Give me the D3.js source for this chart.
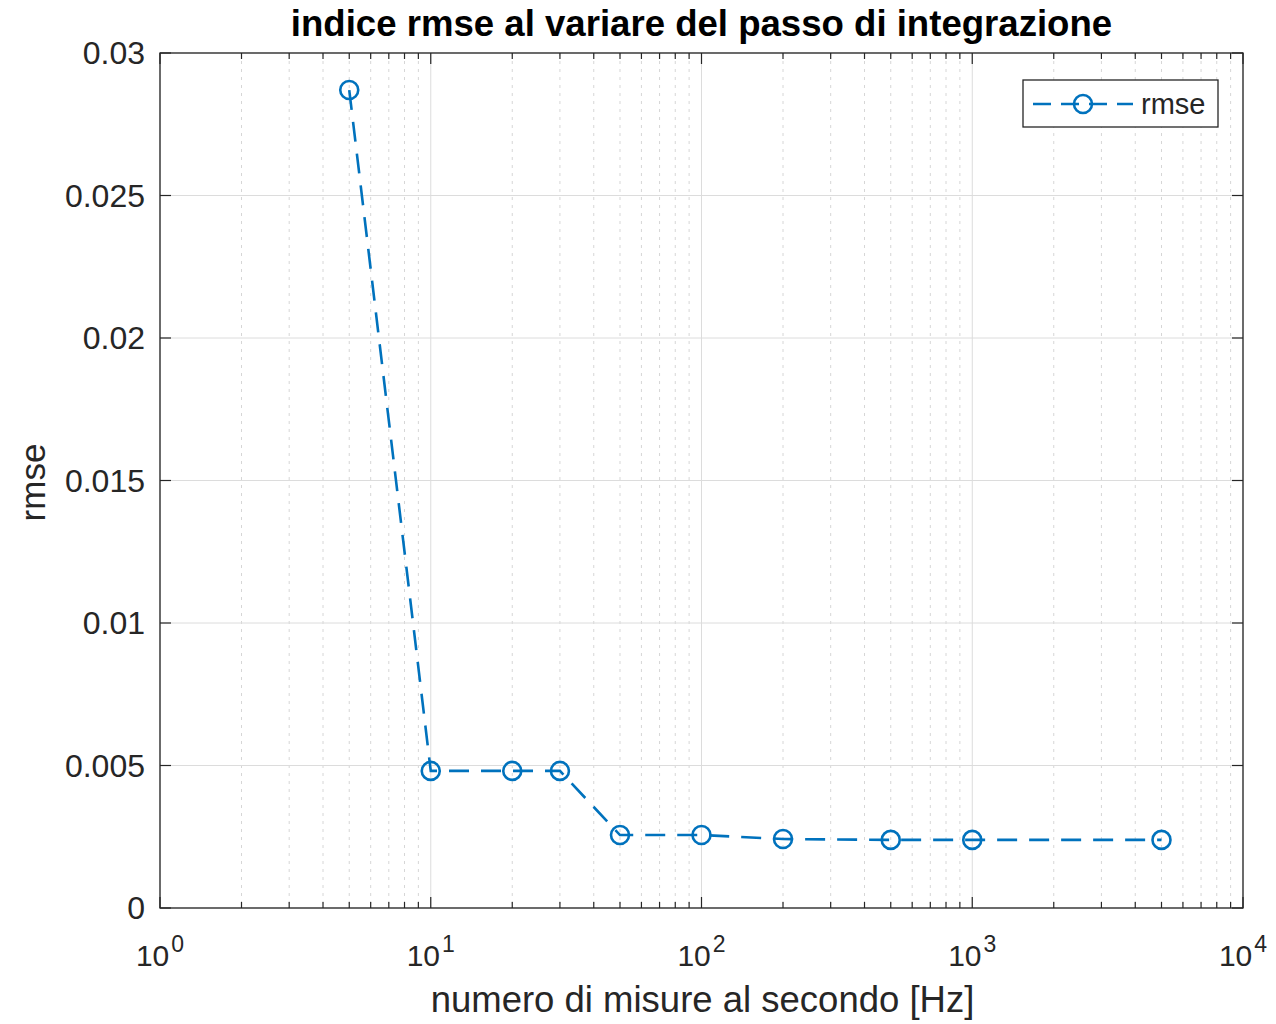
<!DOCTYPE html>
<html>
<head>
<meta charset="utf-8">
<script src="https://cdn.jsdelivr.net/npm/d3@7"></script>
<style>
  body { margin: 0; background: #fff; }
  text { font-family: "Liberation Sans", Arial, sans-serif; }
</style>
</head>
<body>
<div id="chart"></div>
<script>
// data
const freqs = [5, 10, 20, 30, 50, 100, 200, 500, 1000, 5000];
const rmse = [0.0287, 0.00481, 0.00481, 0.00481, 0.00256, 0.00256, 0.00242, 0.00239, 0.00239, 0.00239];
const yTicks = [0, 0.005, 0.01, 0.015, 0.02, 0.025, 0.03];
const yTickLabels = ["0", "0.005", "0.01", "0.015", "0.02", "0.025", "0.03"];
const xDecades = [1, 10, 100, 1000, 10000];

const W = 1276, H = 1024;
const margin = { top: 53, right: 33, bottom: 116, left: 160 };
const iw = W - margin.left - margin.right;
const ih = H - margin.top - margin.bottom;
const blue = "#0072BD";

const svg = d3.select("#chart").append("svg")
    .attr("width", W).attr("height", H);

const g = svg.append("g")
    .attr("transform", `translate(${margin.left},${margin.top})`);

const x = d3.scaleLog().domain([1, 10000]).range([0, iw]);
const y = d3.scaleLinear().domain([0, 0.03]).range([ih, 0]);

// minor log ticks
const minor = [];
xDecades.slice(0, -1).forEach(d => {
  for (let k = 2; k <= 9; k++) minor.push(d * k);
});

// grid
g.selectAll(".minor").data(minor).enter().append("line")
    .attr("x1", d => x(d)).attr("x2", d => x(d))
    .attr("y1", 0).attr("y2", ih)
    .attr("stroke", "#d6d6d6").attr("stroke-width", 1)
    .attr("stroke-dasharray", "3,5");
g.selectAll(".xgrid").data(xDecades).enter().append("line")
    .attr("x1", d => x(d)).attr("x2", d => x(d))
    .attr("y1", 0).attr("y2", ih)
    .attr("stroke", "#dcdcdc").attr("stroke-width", 1);
g.selectAll(".ygrid").data(yTicks).enter().append("line")
    .attr("x1", 0).attr("x2", iw)
    .attr("y1", d => y(d)).attr("y2", d => y(d))
    .attr("stroke", "#dcdcdc").attr("stroke-width", 1);

// ticks (inward, on all four sides)
const tk = g.append("g").attr("stroke", "#262626").attr("stroke-width", 1.2);
xDecades.forEach(d => {
  tk.append("line").attr("x1", x(d)).attr("x2", x(d)).attr("y1", ih).attr("y2", ih - 11);
  tk.append("line").attr("x1", x(d)).attr("x2", x(d)).attr("y1", 0).attr("y2", 11);
});
minor.forEach(d => {
  tk.append("line").attr("x1", x(d)).attr("x2", x(d)).attr("y1", ih).attr("y2", ih - 6);
  tk.append("line").attr("x1", x(d)).attr("x2", x(d)).attr("y1", 0).attr("y2", 6);
});
yTicks.forEach(d => {
  tk.append("line").attr("x1", 0).attr("x2", 11).attr("y1", y(d)).attr("y2", y(d));
  tk.append("line").attr("x1", iw).attr("x2", iw - 11).attr("y1", y(d)).attr("y2", y(d));
});

// box
g.append("rect").attr("width", iw).attr("height", ih)
    .attr("fill", "none").attr("stroke", "#262626").attr("stroke-width", 1.3);

// y tick labels
g.selectAll(".ylab").data(yTicks).enter().append("text")
    .attr("x", -15).attr("y", d => y(d)).attr("dy", "0.35em")
    .attr("text-anchor", "end").attr("font-size", 32).attr("fill", "#262626")
    .text((d, i) => yTickLabels[i]);

// x tick labels 10^n
const xl = g.selectAll(".xlab").data(xDecades).enter().append("text")
    .attr("x", d => x(d)).attr("y", ih + 58)
    .attr("text-anchor", "middle").attr("font-size", 30).attr("fill", "#262626");
xl.append("tspan").text("10");
xl.append("tspan").attr("dy", -14).attr("dx", 2).attr("font-size", 23)
    .text(d => Math.round(Math.log10(d)));

// axis labels and title
svg.append("text").attr("x", margin.left + iw / 2 + 1).attr("y", 1012)
    .attr("text-anchor", "middle").attr("font-size", 36.5).attr("fill", "#262626")
    .text("numero di misure al secondo [Hz]");
svg.append("text")
    .attr("transform", `translate(45,${margin.top + ih / 2 + 2}) rotate(-90)`)
    .attr("text-anchor", "middle").attr("font-size", 35).attr("fill", "#262626")
    .text("rmse");
svg.append("text").attr("x", margin.left + iw / 2).attr("y", 36)
    .attr("text-anchor", "middle").attr("font-size", 36.6).attr("font-weight", "bold")
    .attr("fill", "#000")
    .text("indice rmse al variare del passo di integrazione");

// series
const pts = freqs.map((f, i) => [f, rmse[i]]);
g.append("path").datum(pts)
    .attr("d", d3.line().x(d => x(d[0])).y(d => y(d[1])))
    .attr("fill", "none").attr("stroke", blue).attr("stroke-width", 2.6)
    .attr("stroke-dasharray", "20,12");
g.selectAll(".pt").data(pts).enter().append("circle")
    .attr("cx", d => x(d[0])).attr("cy", d => y(d[1])).attr("r", 9)
    .attr("fill", "none").attr("stroke", blue).attr("stroke-width", 2.6);

// legend
const lg = svg.append("g").attr("transform", "translate(1023,80)");
lg.append("rect").attr("width", 195).attr("height", 47)
    .attr("fill", "#fff").attr("stroke", "#262626").attr("stroke-width", 1.3);
lg.append("line").attr("x1", 10).attr("x2", 110).attr("y1", 24).attr("y2", 24)
    .attr("stroke", blue).attr("stroke-width", 2.6).attr("stroke-dasharray", "18,10");
lg.append("circle").attr("cx", 60).attr("cy", 24).attr("r", 9)
    .attr("fill", "none").attr("stroke", blue).attr("stroke-width", 2.6);
lg.append("text").attr("x", 118).attr("y", 24).attr("dy", "0.35em")
    .attr("font-size", 29).attr("fill", "#262626").text("rmse");
</script>
</body>
</html>
